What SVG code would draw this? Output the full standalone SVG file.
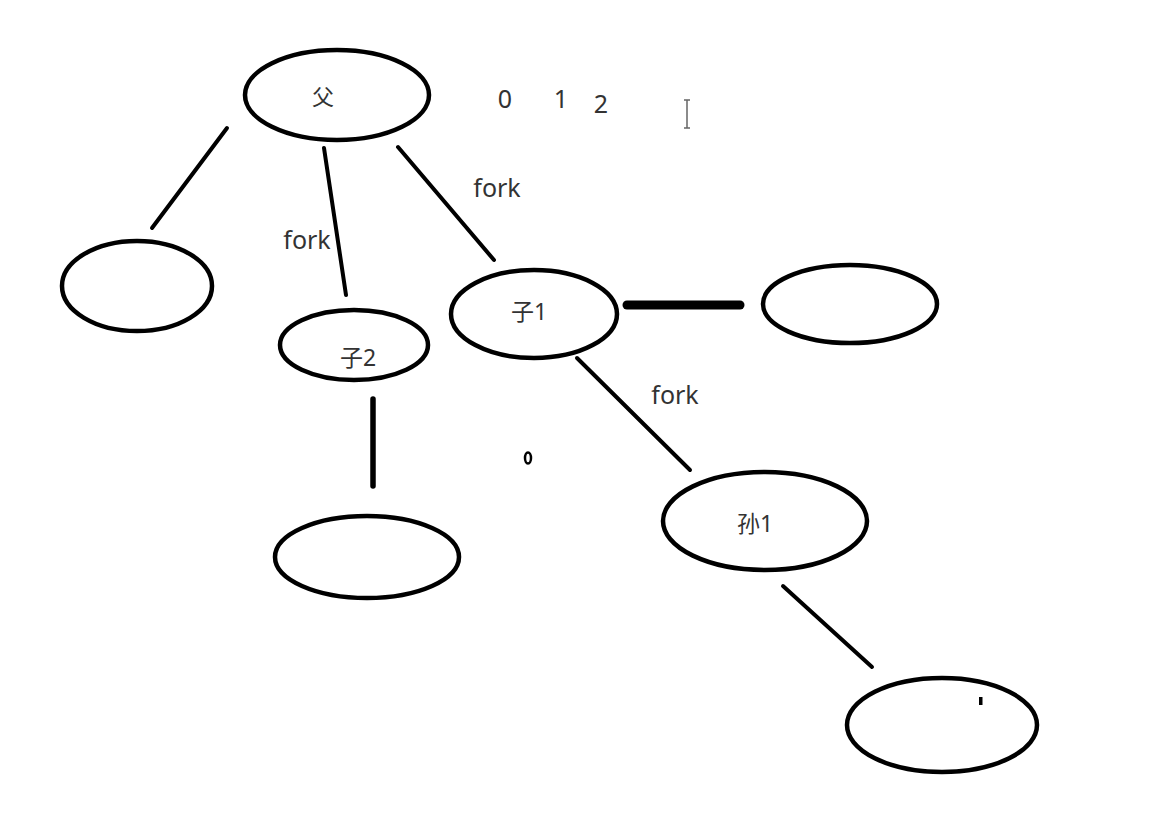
<svg xmlns="http://www.w3.org/2000/svg" width="1160" height="830" viewBox="0 0 1160 830">
<style>
.n{fill:#fff;stroke:#000;stroke-width:4.5}
.c{stroke:#000;stroke-width:4;stroke-linecap:round;fill:none}
.t{font-family:"Noto Sans","Noto Sans CJK SC",sans-serif;font-size:25px;fill:#333;text-anchor:middle}
</style>
<rect width="1160" height="830" fill="#fff"/>
<g id="connectors">
<line class="c" x1="227" y1="128" x2="152" y2="228"/>
<line class="c" x1="324" y1="148" x2="346" y2="295"/>
<line class="c" x1="398" y1="147" x2="494" y2="260"/>
<line class="c" x1="627" y1="305" x2="740" y2="305" style="stroke-width:9"/>
<line class="c" x1="577" y1="358" x2="690" y2="470"/>
<line class="c" x1="373" y1="399" x2="373" y2="486" style="stroke-width:5.5"/>
<line class="c" x1="783" y1="586" x2="872" y2="667"/>
</g>
<g id="labels">
<text class="t" x="497" y="197">fork</text>
<text class="t" x="307" y="249">fork</text>
<text class="t" x="675" y="404">fork</text>
<text class="t" x="505" y="108">0</text>
<text class="t" x="561" y="108">1</text>
<text class="t" x="601" y="113">2</text>
</g>
<g id="node-fu">
<ellipse class="n" cx="337" cy="95" rx="92" ry="45"/>
<text class="t" x="323" y="105" style="font-size:22px">父</text>
</g>
<g id="node-left">
<ellipse class="n" cx="137" cy="286" rx="75" ry="45"/>
</g>
<g id="node-zi2">
<ellipse class="n" cx="354" cy="345" rx="74" ry="35"/>
<text class="t" x="358" y="366" style="font-size:23px">子2</text>
</g>
<g id="node-zi1">
<ellipse class="n" cx="534" cy="314" rx="83" ry="44"/>
<text class="t" x="529" y="320" style="font-size:23px">子1</text>
</g>
<g id="node-right">
<ellipse class="n" cx="850" cy="304" rx="87" ry="39"/>
</g>
<g id="node-sun1">
<ellipse class="n" cx="765" cy="521" rx="102" ry="49"/>
<text class="t" x="755" y="532" style="font-size:23px">孙1</text>
</g>
<g id="node-bottom-left">
<ellipse class="n" cx="367" cy="557" rx="92" ry="41"/>
</g>
<g id="node-bottom-right">
<ellipse class="n" cx="942" cy="725" rx="95" ry="47"/>
</g>
<g id="marks">
<path d="M687 100 V128 M684 100 H690 M684 128 H690" stroke="#666" stroke-width="1.5" fill="none"/>
<ellipse cx="528" cy="458" rx="3" ry="5.5" fill="none" stroke="#000" stroke-width="2.5"/>
<rect x="979" y="697" width="3.5" height="8" fill="#000"/>
</g>
</svg>
